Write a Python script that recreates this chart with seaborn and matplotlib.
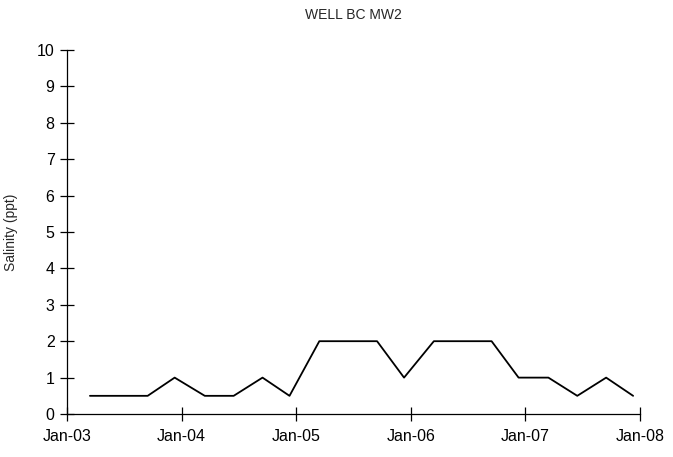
import numpy as np
import pandas as pd
import matplotlib.pyplot as plt
import matplotlib.dates as mdates
import seaborn as sns

# quarterly salinity readings
dates = ["2003-03-15", "2003-06-15", "2003-09-15", "2003-12-10",
         "2004-03-15", "2004-06-15", "2004-09-15", "2004-12-10",
         "2005-03-15", "2005-06-15", "2005-09-15", "2005-12-10",
         "2006-03-15", "2006-06-15", "2006-09-15", "2006-12-10",
         "2007-03-15", "2007-06-15", "2007-09-15", "2007-12-10"]
salinity = [0.5, 0.5, 0.5, 1, 0.5, 0.5, 1, 0.5,
            2, 2, 2, 1, 2, 2, 2, 1,
            1, 0.5, 1, 0.5]
tick_dates = ["2003-01-01", "2004-01-01", "2005-01-01",
              "2006-01-01", "2007-01-01", "2008-01-01"]

df = pd.DataFrame({"date": pd.to_datetime(dates), "salinity": salinity})

sns.set_style("ticks")
plt.rcParams['font.family'] = ['Liberation Sans', 'DejaVu Sans']

fig = plt.figure(figsize=(6.73, 4.57), dpi=100)
ax = fig.add_axes([0.0996, 0.094, 0.8514, 0.797])

sns.lineplot(data=df, x="date", y="salinity", color="black", linewidth=1.3, ax=ax)

ax.set_xlim(pd.Timestamp(tick_dates[0]), pd.Timestamp(tick_dates[-1]))
ax.set_ylim(0, 10)
ax.set_xticks(pd.to_datetime(tick_dates))
ax.xaxis.set_major_formatter(mdates.DateFormatter("%b-%y"))
ax.set_yticks(np.arange(0, 11, 1))

for side in ["top", "right"]:
    ax.spines[side].set_visible(False)
for side in ["left", "bottom"]:
    ax.spines[side].set_color("black")
    ax.spines[side].set_linewidth(0.9)

ax.tick_params(axis="both", direction="inout", length=10, width=0.9,
               colors="black", labelsize=11.5)
ax.tick_params(axis="x", pad=6)
ax.tick_params(axis="y", pad=4)

ax.set_xlabel("")
ax.set_ylabel("Salinity (ppt)", fontsize=10)
ax.yaxis.set_label_coords(-0.086, 0.5)
ax.set_title("WELL BC MW2", fontsize=10, pad=22)

plt.savefig("out.png", dpi=100)
